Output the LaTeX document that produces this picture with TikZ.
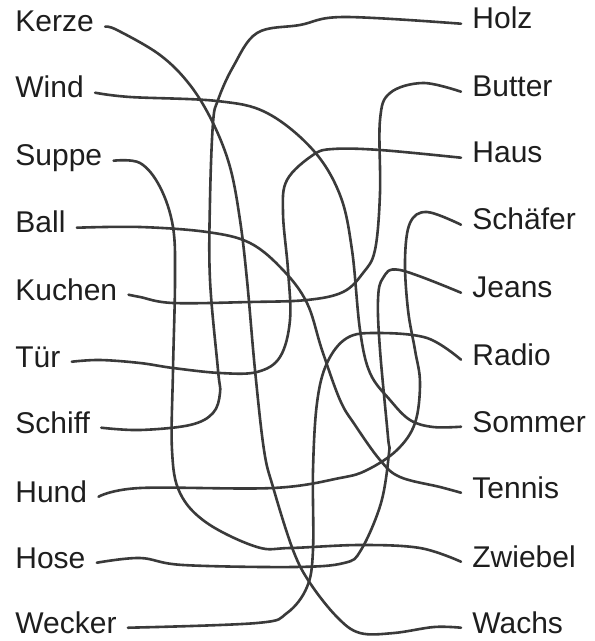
\documentclass[tikz,border=0pt]{standalone}
\usepackage{fontspec}
\setmainfont{Liberation Sans}
\definecolor{PenGray}{HTML}{3A3A3A}
\definecolor{InkBlack}{HTML}{1E1E1E}

\begin{document}
\begin{tikzpicture}[
  x=0.5pt, y=-0.5pt,
  word/.style={anchor=base west, inner xsep=5.5pt, inner ysep=0pt, font=\fontsize{15}{18}\selectfont, text=InkBlack},
  wire/.style={draw=PenGray, line width=1.3pt, line cap=round, line join=round}
]
  \fill[white] (0,0) rectangle (594,641);
  \useasboundingbox (0,0) rectangle (594,641);

  % words on the left
  \foreach \n/\t/\y in {kerze/Kerze/32, wind/Wind/98, suppe/Suppe/166, ball/Ball/233,
      kuchen/Kuchen/300, tuer/Tür/367, schiff/Schiff/433, hund/Hund/502,
      hose/Hose/568, wecker/Wecker/633}{
    \node[word] (\n) at (4,\y) {\t};
  }
  % words on the right
  \foreach \n/\t/\y in {holz/Holz/29, butter/Butter/97, haus/Haus/163, schaefer/Schäfer/230,
      jeans/Jeans/298, radio/Radio/365, sommer/Sommer/432, tennis/Tennis/498,
      zwiebel/Zwiebel/567, wachs/Wachs/633}{
    \node[word] (\n) at (461,\y) {\t};
  }

  % tangled lines
  \draw[wire] plot[smooth, tension=0.6] coordinates {(kerze.mid east) (117,30) (160,55) (190,85)
    (213,123) (230,167) (240,220) (247,280) (255,370) (264,450) (273,487) (293,550) (310,583)
    (337,617) (360,633) (394,633) (434,627) (wachs.mid west)};
  \draw[wire] plot[smooth, tension=0.6] coordinates {(wind.mid east) (130,97) (217,101) (267,113)
    (313,150) (340,195) (352,250) (360,330) (370,373) (390,400) (410,420) (433,427) (sommer.mid west)};
  \draw[wire] plot[smooth, tension=0.6] coordinates {(suppe.mid east) (140,163) (160,187) (173,227)
    (175,280) (173,370) (172,450) (180,493) (207,523) (257,547) (290,548) (360,545) (420,548)
    (zwiebel.mid west)};
  \draw[wire] plot[smooth, tension=0.6] coordinates {(ball.mid east) (140,227) (207,232) (250,243)
    (283,270) (307,303) (322,350) (340,400) (355,425) (380,460) (400,477) (440,487) (tennis.mid west)};
  \draw[wire] plot[smooth, tension=0.6] coordinates {(kuchen.mid east) (140,297) (173,303) (250,302)
    (307,300) (343,292) (363,273) (375,250) (380,193) (380,120) (390,93) (423,83) (butter.mid west)};
  \draw[wire] plot[smooth, tension=0.6] coordinates {(tuer.mid east) (100,360) (140,363) (173,368)
    (220,373) (257,372) (280,357) (290,320) (288,270) (283,213) (287,180) (313,155) (333,149)
    (380,150) (haus.mid west)};
  \draw[wire] plot[smooth, tension=0.6] coordinates {(schiff.mid east) (140,430) (190,425) (213,413)
    (220,393) (218,370) (210,280) (210,200) (213,123) (218,100) (233,67) (257,33) (300,25)
    (344,17) (holz.mid west)};
  \draw[wire] plot[smooth, tension=0.6] coordinates {(hund.mid east) (140,488) (273,488) (340,478)
    (367,470) (397,450) (415,423) (420,383) (415,350) (408,310) (405,260) (410,223) (427,212)
    (schaefer.mid west)};
  \draw[wire] plot[smooth, tension=0.6] coordinates {(hose.mid east) (140,558) (183,565) (294,567)
    (344,563) (361,550) (381,503) (389,453) (388,437) (380,350) (378,300) (383,278) (400,270)
    (jeans.mid west)};
  \draw[wire] plot[smooth, tension=0.6] coordinates {(wecker.mid east) (257,623) (287,613) (307,587)
    (313,550) (313,470) (317,403) (327,363) (347,338) (377,333) (427,338) (radio.mid west)};
\end{tikzpicture}
\end{document}
